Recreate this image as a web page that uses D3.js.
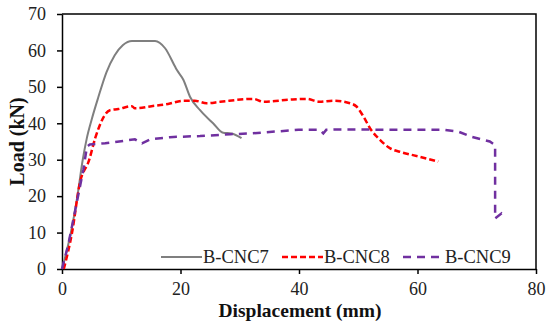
<!DOCTYPE html>
<html>
<head>
<meta charset="utf-8">
<script src="https://cdn.jsdelivr.net/npm/d3@7"></script>
<style>
  body { margin: 0; background: #fff; }
  svg text { font-family: "Liberation Serif", "Times New Roman", serif; }
</style>
</head>
<body>
<svg width="550" height="325"></svg>
<script>
// displacement (mm), load (kN)
var cnc7 = [[0,0],[1.5,10],[2.6,20],[3.5,30],[4.2,36],[5,41],[6.1,47],[7.5,54],[8.9,58.7],
  [10.3,61.5],[11.8,62.6],[15.7,62.6],[17.4,60.6],[19.1,55.5],[19.4,54.6],[20.5,51.9],
  [21.6,47.3],[23.3,43.6],[25.5,40],[27.2,37.4],[28.6,37.2],[30.3,35.9]];
var cnc8 = [[0.3,0],[1.7,10],[3,23.5],[4.6,30],[5.6,35.9],[8.1,43.6],[9.5,43.9],[11.8,44.7],
  [12.3,44.1],[15.1,44.7],[17.9,45.3],[20.5,46.2],[22.4,46.2],[24.4,45.5],[26.7,45.9],
  [32.3,46.7],[34,45.9],[38.5,46.5],[41.3,46.7],[43.5,45.9],[45.8,46.2],[48.6,45.5],
  [49.7,44.6],[50.9,41.8],[52,38.6],[53.7,35.4],[55.4,33.1],[57,32.2],[60.4,30.8],[63.5,29.5]];
var cnc9 = [[0,0],[1.1,7],[3.6,27.2],[4.2,33.5],[4.7,34.2],[7.3,34.5],[12.3,35.6],[13.5,34.5],
  [14.9,35.6],[18.2,36.2],[23.3,36.5],[28.4,37],[31.7,37.2],[39.9,38.2],[43.5,38.2],[44.1,37.2],
  [44.6,38.2],[46.4,38.3],[60.1,38.2],[64.4,38.2],[66.9,37.7],[69.1,36.3],[72.2,35],[73.1,34],
  [73.1,13.9],[74.2,15.3],[74.8,14.5]];

var xTicks = [0, 20, 40, 60, 80];
var yTicks = [0, 10, 20, 30, 40, 50, 60, 70];
var names = ["B-CNC7", "B-CNC8", "B-CNC9"];

var margin = {top: 14, right: 14, bottom: 56, left: 62},
    width = 550 - margin.left - margin.right,
    height = 325 - margin.top - margin.bottom;

var x = d3.scaleLinear().domain([0, 80]).range([0, width]);
var y = d3.scaleLinear().domain([0, 70]).range([height, 0]);

var svg = d3.select("svg")
  .append("g")
    .attr("transform", "translate(" + margin.left + "," + margin.top + ")");

// frame top & right
svg.append("path")
    .attr("d", "M0,0H" + width + "V" + height)
    .attr("fill", "none")
    .attr("stroke", "#000")
    .attr("stroke-width", 1.5);

var xAxis = svg.append("g")
    .attr("transform", "translate(0," + height + ")")
    .call(d3.axisBottom(x).tickValues(xTicks).tickSize(5).tickSizeOuter(0));
var yAxis = svg.append("g")
    .call(d3.axisLeft(y).tickValues(yTicks).tickSize(5).tickSizeOuter(0));

[xAxis, yAxis].forEach(function(a) {
  a.selectAll("path, line").attr("stroke", "#000").attr("stroke-width", 1.5);
  a.selectAll("text").attr("font-size", 18).attr("fill", "#222")
    .style("font-family", "Liberation Serif, serif");
});
xAxis.selectAll("text").attr("y", 13);
yAxis.selectAll("text").attr("x", -16);

var line = d3.line()
    .x(function(d) { return x(d[0]); })
    .y(function(d) { return y(d[1]); });

var series = [
  {data: cnc7, color: "#7f7f7f", dash: null, w: 2, curve: d3.curveMonotoneX},
  {data: cnc8, color: "#ff0000", dash: "6,3", w: 2.5, curve: d3.curveMonotoneX},
  {data: cnc9, color: "#7030a0", dash: "8,6", w: 2.5, curve: d3.curveLinear}
];

series.forEach(function(s) {
  svg.append("path")
      .datum(s.data)
      .attr("d", line.curve(s.curve))
      .attr("fill", "none")
      .attr("stroke", s.color)
      .attr("stroke-width", s.w)
      .attr("stroke-dasharray", s.dash);
});

// legend
var legendX = [99, 220, 341];
series.forEach(function(s, i) {
  var g = svg.append("g").attr("transform", "translate(" + legendX[i] + "," + (257 - margin.top) + ")");
  g.append("line")
      .attr("x1", 0).attr("x2", 41)
      .attr("stroke", s.color)
      .attr("stroke-width", s.w)
      .attr("stroke-dasharray", s.dash);
  g.append("text")
      .attr("x", 42)
      .attr("dy", "0.35em")
      .attr("font-size", 18.5)
      .attr("fill", "#222")
      .text(names[i]);
});

svg.append("text")
    .attr("x", 238)
    .attr("y", height + 47.5)
    .attr("text-anchor", "middle")
    .attr("font-size", 19.5)
    .attr("font-weight", "bold")
    .attr("fill", "#111")
    .text("Displacement (mm)");

svg.append("text")
    .attr("transform", "rotate(-90)")
    .attr("x", -height / 2)
    .attr("y", -38)
    .attr("text-anchor", "middle")
    .attr("font-size", 20)
    .attr("font-weight", "bold")
    .attr("fill", "#111")
    .text("Load (kN)");
</script>
</body>
</html>
